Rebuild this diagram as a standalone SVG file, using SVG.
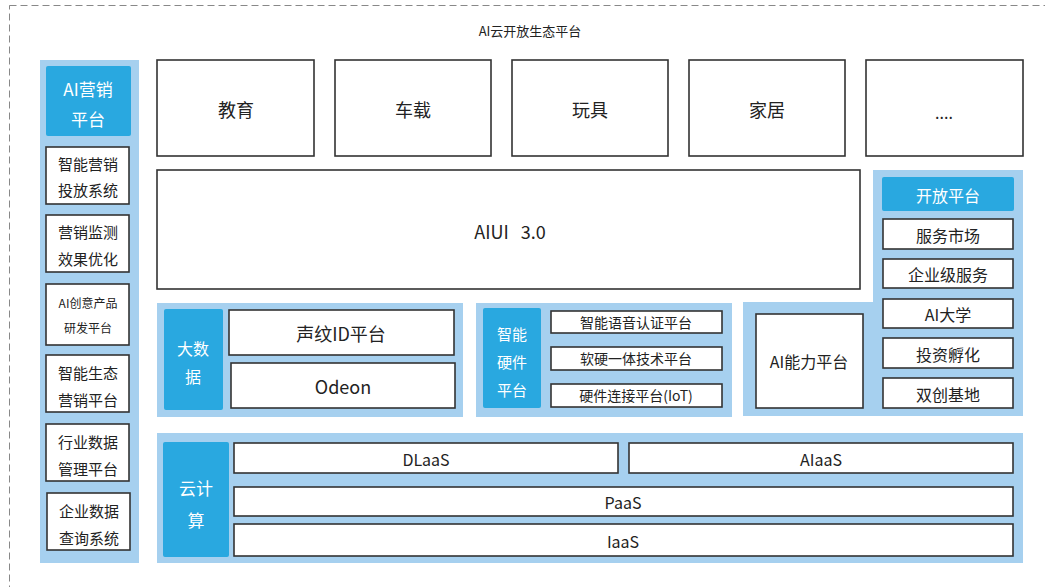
<svg xmlns="http://www.w3.org/2000/svg" width="1045" height="587" viewBox="0 0 1045 587">
<style>
text{font-family:"Noto Sans CJK SC","Noto Sans",sans-serif;text-anchor:middle;dominant-baseline:central;fill:#222}
.pan{fill:#a6d0ef}
.hdr{fill:#29a8e0}
.box{fill:#fff;stroke:#333;stroke-width:1.6}
.wt{fill:#fff}
</style>
<rect width="1045" height="587" fill="#fff"/>
<rect x="9.5" y="5.5" width="1040" height="590" fill="none" stroke="#888" stroke-width="1" stroke-dasharray="7,4"/>
<text x="530" y="30" font-size="13">AI云开放生态平台</text>

<g id="ai-marketing">
<rect class="pan" x="40" y="60" width="99" height="503"/>
<rect class="hdr" x="46" y="66" width="85" height="70" rx="2"/>
<text class="wt" x="88" y="88" font-size="17">AI营销</text>
<text class="wt" x="88" y="118" font-size="17">平台</text>
<g id="m1"><rect class="box" x="46" y="147" width="83" height="57"/><text x="88" y="163" font-size="15">智能营销</text><text x="88" y="189" font-size="15">投放系统</text></g>
<g id="m2"><rect class="box" x="46" y="215" width="83" height="57"/><text x="88" y="231" font-size="15">营销监测</text><text x="88" y="258" font-size="15">效果优化</text></g>
<g id="m3"><rect class="box" x="46" y="284" width="83" height="61"/><text x="88" y="302" font-size="12">AI创意产品</text><text x="88" y="327" font-size="12">研发平台</text></g>
<g id="m4"><rect class="box" x="46" y="355" width="83" height="57"/><text x="88" y="372" font-size="15">智能生态</text><text x="88" y="399" font-size="15">营销平台</text></g>
<g id="m5"><rect class="box" x="46" y="424" width="83" height="57"/><text x="88" y="441" font-size="15">行业数据</text><text x="88" y="468" font-size="15">管理平台</text></g>
<g id="m6"><rect class="box" x="47" y="493" width="83" height="57"/><text x="89" y="510" font-size="15">企业数据</text><text x="89" y="537" font-size="15">查询系统</text></g>
</g>

<g id="app-edu"><rect class="box" x="157" y="60" width="157" height="96"/><text x="236" y="109" font-size="18">教育</text></g>
<g id="app-car"><rect class="box" x="335" y="60" width="156" height="96"/><text x="413" y="109" font-size="18">车载</text></g>
<g id="app-toy"><rect class="box" x="512" y="60" width="156" height="96"/><text x="590" y="109" font-size="18">玩具</text></g>
<g id="app-home"><rect class="box" x="689" y="60" width="156" height="96"/><text x="767" y="109" font-size="18">家居</text></g>
<g id="app-more"><rect class="box" x="866" y="60" width="157" height="96"/><text x="944" y="112" font-size="16">....</text></g>

<g id="aiui"><rect class="box" x="157" y="170" width="703" height="119"/><text x="510" y="231" font-size="18" xml:space="preserve">AIUI   3.0</text></g>

<g id="bigdata">
<rect class="pan" x="157" y="303" width="306" height="114"/>
<rect class="hdr" x="164" y="309" width="59" height="101" rx="2"/>
<text class="wt" x="193" y="348" font-size="16">大数</text>
<text class="wt" x="193" y="376" font-size="16">据</text>
<g id="voiceprint"><rect class="box" x="229" y="310" width="225" height="45"/><text x="341" y="333" font-size="18">声纹ID平台</text></g>
<g id="odeon"><rect class="box" x="231" y="363" width="224" height="45"/><text x="343" y="386" font-size="18">Odeon</text></g>
</g>

<g id="hardware">
<rect class="pan" x="476" y="303" width="256" height="114"/>
<rect class="hdr" x="483" y="308" width="58" height="100" rx="2"/>
<text class="wt" x="512" y="333" font-size="15">智能</text>
<text class="wt" x="512" y="361" font-size="15">硬件</text>
<text class="wt" x="512" y="389" font-size="15">平台</text>
<g id="hw1"><rect class="box" x="551" y="311" width="171" height="22"/><text x="636" y="322" font-size="14">智能语音认证平台</text></g>
<g id="hw2"><rect class="box" x="551" y="347" width="171" height="23"/><text x="636" y="358" font-size="14">软硬一体技术平台</text></g>
<g id="hw3"><rect class="box" x="551" y="384" width="171" height="23"/><text x="636" y="395" font-size="14">硬件连接平台(IoT)</text></g>
</g>

<g id="open-platform">
<path class="pan" d="M873 170H1023V416H743V302H873Z"/>
<rect class="hdr" x="882" y="177" width="132" height="34" rx="2"/>
<text class="wt" x="948" y="195" font-size="16">开放平台</text>
<g id="op1"><rect class="box" x="883" y="219" width="130" height="30"/><text x="948" y="235" font-size="16">服务市场</text></g>
<g id="op2"><rect class="box" x="883" y="259" width="130" height="29"/><text x="948" y="274" font-size="16">企业级服务</text></g>
<g id="op3"><rect class="box" x="883" y="299" width="130" height="29"/><text x="948" y="314" font-size="16">AI大学</text></g>
<g id="op4"><rect class="box" x="883" y="338" width="130" height="30"/><text x="948" y="354" font-size="16">投资孵化</text></g>
<g id="op5"><rect class="box" x="883" y="378" width="130" height="30"/><text x="948" y="394" font-size="16">双创基地</text></g>
<g id="ai-ability"><rect class="box" x="756" y="314" width="107" height="94"/><text x="809" y="361" font-size="16">AI能力平台</text></g>
</g>

<g id="cloud">
<rect class="pan" x="157" y="433" width="866" height="130"/>
<rect class="hdr" x="163" y="442" width="66" height="115" rx="2"/>
<text class="wt" x="196" y="487" font-size="17">云计</text>
<text class="wt" x="196" y="519" font-size="17">算</text>
<g id="dlaas"><rect class="box" x="234" y="443" width="384" height="30"/><text x="426" y="459" font-size="16">DLaaS</text></g>
<g id="aiaas"><rect class="box" x="629" y="443" width="384" height="30"/><text x="821" y="459" font-size="16">AIaaS</text></g>
<g id="paas"><rect class="box" x="234" y="487" width="779" height="29"/><text x="623" y="502" font-size="16">PaaS</text></g>
<g id="iaas"><rect class="box" x="234" y="524" width="779" height="32"/><text x="623" y="541" font-size="16">IaaS</text></g>
</g>
<g id="connectors"/>
</svg>
